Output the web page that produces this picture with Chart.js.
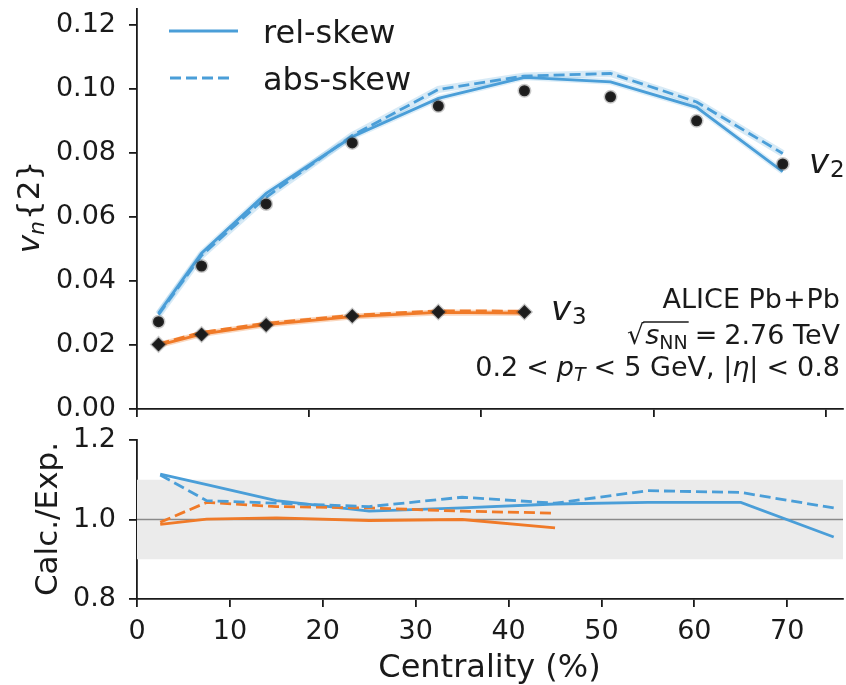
<!DOCTYPE html>
<html><head><meta charset="utf-8">
<script src="https://cdn.jsdelivr.net/npm/chart.js@4"></script>
<style>
html,body{margin:0;padding:0;background:#fff;width:846px;height:685px;overflow:hidden;position:relative}
#c1{position:absolute;left:0;top:-20px}
#c2{position:absolute;left:0;top:410px}
</style></head><body>
<canvas id="c1" width="846" height="465"></canvas>
<canvas id="c2" width="846" height="275"></canvas>
<script>
// ---------------- data ----------------
const centrality   = [2.5, 7.5, 15, 25, 35, 45, 55, 65, 75];
const centralityV3 = [2.5, 7.5, 15, 25, 35, 45];
const expV2 = [0.0273, 0.0447, 0.0641, 0.0832, 0.0947, 0.0995, 0.0976, 0.0901, 0.0766];
const expV3 = [0.0202, 0.0233, 0.0263, 0.0291, 0.0303, 0.0303];
const relV2 = [0.0299, 0.0487, 0.0674, 0.0851, 0.0971, 0.1037, 0.1023, 0.0943, 0.0742];
const absV2 = [0.0295, 0.0480, 0.0662, 0.0855, 0.0999, 0.1041, 0.1049, 0.0960, 0.0799];
const relV3 = [0.0200, 0.0234, 0.0264, 0.0289, 0.0302, 0.0300];
const absV3 = [0.0203, 0.0240, 0.0268, 0.0293, 0.0307, 0.0306];
const ratioRelV2 = [1.114, 1.088, 1.0475, 1.021, 1.029, 1.039, 1.043, 1.043, 0.956];
const ratioAbsV2 = [1.112, 1.0475, 1.041, 1.0325, 1.056, 1.041, 1.0725, 1.068, 1.029];
const ratioRelV3 = [0.9875, 1.001, 1.004, 0.9975, 1.000, 0.979];
const ratioAbsV3 = [0.993, 1.043, 1.0325, 1.029, 1.021, 1.016];
const bandRange = [0.9, 1.1];
const unityLine = [1.0];
const topXTicks = [0, 20, 40, 60, 80];
const topYTicks = [0, 0.02, 0.04, 0.06, 0.08, 0.10, 0.12];
const botXTicks = [0, 10, 20, 30, 40, 50, 60, 70];
const botYTicks = [0.8, 1.0, 1.2];
const topXRange = [0, 82];
const topYRange = [0, 0.125];
const botXRange = [0, 76];
const botYRange = [0.8, 1.2];

// ---------------- style ----------------
const BLUE = '#4a9ed8', ORANGE = '#f07a28', AX = '#1a1a1a', FAM = '"DejaVu Sans"';
const F = (s, st) => (st ? st + ' ' : '') + s + 'px ' + FAM;
const pts = (xs, ys) => xs.map((x, i) => ({x, y: ys[i]}));

function drawRuns(ctx, runs, x, y, align) {
  let w = 0;
  runs.forEach(r => { ctx.font = r.f; w += ctx.measureText(r.t).width + (r.pl || 0) + (r.pr || 0); });
  let cx = align === 'right' ? x - w : align === 'center' ? x - w / 2 : x;
  const pos = [];
  runs.forEach(r => {
    ctx.font = r.f; cx += (r.pl || 0);
    const rw = ctx.measureText(r.t).width;
    ctx.fillText(r.t, cx, y + (r.dy || 0));
    pos.push([cx, cx + rw]);
    cx += rw + (r.pr || 0);
  });
  return pos;
}

function axisCommon(range, ticks, fmt, showLabels, fit, pad) {
  return {
    type: 'linear', min: range[0], max: range[1],
    afterBuildTicks: s => { s.ticks = ticks.map(v => ({value: v})); },
    ticks: {display: showLabels, font: {family: 'DejaVu Sans', size: 27}, color: AX, padding: pad,
            maxRotation: 0, autoSkip: false, callback: v => fmt(v)},
    grid: {drawOnChartArea: false, drawTicks: true, tickLength: 8, color: AX, tickWidth: 1.8, lineWidth: 1.8},
    border: {display: true, color: AX, width: 1.8},
    afterFit: fit
  };
}

// ---------------- top chart ----------------
const topText = {
  id: 'topText',
  afterDraw(chart) {
    const ctx = chart.ctx, o = 20; // page y -> canvas y
    ctx.save();
    ctx.fillStyle = AX; ctx.textBaseline = 'alphabetic';
    // legend
    ctx.lineWidth = 3; ctx.strokeStyle = BLUE;
    ctx.beginPath(); ctx.setLineDash([]); ctx.moveTo(169, 31 + o); ctx.lineTo(238, 31 + o); ctx.stroke();
    ctx.beginPath(); ctx.setLineDash([11, 5]); ctx.moveTo(170, 78 + o); ctx.lineTo(234, 78 + o); ctx.stroke();
    ctx.setLineDash([]);
    drawRuns(ctx, [{t: 'rel-skew', f: F(32)}], 263, 43 + o, 'left');
    drawRuns(ctx, [{t: 'abs-skew', f: F(32)}], 263, 90 + o, 'left');
    // v2 / v3 labels
    drawRuns(ctx, [{t: 'v', f: F(34, 'italic')}, {t: '2', f: F(23), dy: 4, pl: 1}], 809, 173 + o, 'left');
    drawRuns(ctx, [{t: 'v', f: F(34, 'italic')}, {t: '3', f: F(23), dy: 4, pl: 1}], 551, 320 + o, 'left');
    // ALICE block
    drawRuns(ctx, [{t: 'ALICE Pb', f: F(27)}, {t: '+', f: F(27), pl: 1, pr: 1}, {t: 'Pb', f: F(27)}], 840, 308 + o, 'right');
    const p = drawRuns(ctx, [{t: '\u221A', f: F(27)}, {t: 's', f: F(27, 'italic'), pl: 1}, {t: 'NN', f: F(19), dy: 5},
                             {t: '=', f: F(27), pl: 7, pr: 7}, {t: '2.76 TeV', f: F(27)}], 840, 344 + o, 'right');
    ctx.lineWidth = 1.5; ctx.strokeStyle = AX;
    ctx.beginPath(); ctx.moveTo(p[0][1] - 1, 322 + o); ctx.lineTo(p[2][1] + 1, 322 + o); ctx.stroke();
    drawRuns(ctx, [{t: '0.2', f: F(27)}, {t: '<', f: F(27), pl: 8, pr: 8}, {t: 'p', f: F(27, 'italic')},
                   {t: 'T', f: F(19, 'italic'), dy: 5}, {t: '<', f: F(27), pl: 8, pr: 8}, {t: '5 GeV, |', f: F(27)},
                   {t: '\u03B7', f: F(27, 'italic')}, {t: '|', f: F(27)}, {t: '<', f: F(27), pl: 8, pr: 8}, {t: '0.8', f: F(27)}],
             840, 376 + o, 'right');
    // y title
    ctx.translate(39, 207 + o); ctx.rotate(-Math.PI / 2);
    drawRuns(ctx, [{t: 'v', f: F(31, 'italic')}, {t: 'n', f: F(22, 'italic'), dy: 5}, {t: '{2}', f: F(31), pl: 1}], 0, 0, 'center');
    ctx.restore();
  }
};

new Chart(document.getElementById('c1'), {
  type: 'scatter',
  data: {datasets: [
    {data: pts(centrality, expV2), pointStyle: 'circle', pointRadius: 5.5, backgroundColor: '#1c1c1c',
     borderColor: 'rgba(60,60,60,0.28)', borderWidth: 3},
    {data: pts(centralityV3, expV3), pointStyle: 'rectRot', pointRadius: 7, backgroundColor: '#1c1c1c',
     borderColor: 'rgba(60,60,60,0.28)', borderWidth: 2.5},
    {data: pts(centrality, absV2), showLine: true, pointRadius: 0, borderColor: BLUE, borderWidth: 2.8, borderDash: [11, 5]},
    {data: pts(centralityV3, absV3), showLine: true, pointRadius: 0, borderColor: ORANGE, borderWidth: 2.8, borderDash: [11, 5]},
    {data: pts(centrality, relV2), showLine: true, pointRadius: 0, borderColor: BLUE, borderWidth: 2.8},
    {data: pts(centralityV3, relV3), showLine: true, pointRadius: 0, borderColor: ORANGE, borderWidth: 2.8},
    {data: pts(centrality, absV2), showLine: true, pointRadius: 0, borderColor: 'rgba(74,158,216,0.22)', borderWidth: 7},
    {data: pts(centrality, relV2), showLine: true, pointRadius: 0, borderColor: 'rgba(74,158,216,0.18)', borderWidth: 6},
    {data: pts(centralityV3, relV3), showLine: true, pointRadius: 0, borderColor: 'rgba(240,122,40,0.3)', borderWidth: 6}
  ]},
  options: {
    animation: false, responsive: false, devicePixelRatio: 1,
    layout: {autoPadding: false, padding: {top: 29, right: 3, left: 0, bottom: 0}},
    plugins: {legend: {display: false}, tooltip: {enabled: false}},
    scales: {
      x: axisCommon(topXRange, topXTicks, v => '', false, s => { s.height = 36; }, 9),
      y: axisCommon(topYRange, topYTicks, v => v.toFixed(2), true, s => { s.width = 137; }, 13)
    }
  },
  plugins: [topText]
});

// ---------------- bottom chart ----------------
const botText = {
  id: 'botText',
  afterDraw(chart) {
    const ctx = chart.ctx, o = -410;
    ctx.save();
    ctx.fillStyle = AX; ctx.textBaseline = 'alphabetic';
    drawRuns(ctx, [{t: 'Centrality (%)', f: F(32)}], 489.5, 677 + o, 'center');
    ctx.translate(57, 519 + o); ctx.rotate(-Math.PI / 2);
    drawRuns(ctx, [{t: 'Calc./Exp.', f: F(31)}], 0, 0, 'center');
    ctx.restore();
  }
};

new Chart(document.getElementById('c2'), {
  type: 'scatter',
  data: {datasets: [
    {data: pts(centrality, ratioAbsV2), showLine: true, pointRadius: 0, borderColor: BLUE, borderWidth: 2.8, borderDash: [11, 5]},
    {data: pts(centralityV3, ratioAbsV3), showLine: true, pointRadius: 0, borderColor: ORANGE, borderWidth: 2.8, borderDash: [11, 5]},
    {data: pts(centrality, ratioRelV2), showLine: true, pointRadius: 0, borderColor: BLUE, borderWidth: 2.8},
    {data: pts(centralityV3, ratioRelV3), showLine: true, pointRadius: 0, borderColor: ORANGE, borderWidth: 2.8},
    {data: [{x: botXRange[0], y: unityLine[0]}, {x: botXRange[1], y: unityLine[0]}], showLine: true, pointRadius: 0,
     borderColor: '#8a8a8a', borderWidth: 1.3},
    {data: [{x: botXRange[0], y: bandRange[1]}, {x: botXRange[1], y: bandRange[1]}], showLine: true, pointRadius: 0,
     borderWidth: 0, borderColor: 'rgba(0,0,0,0)', backgroundColor: '#ebebeb', fill: {value: bandRange[0]}}
  ]},
  options: {
    animation: false, responsive: false, devicePixelRatio: 1,
    layout: {autoPadding: false, padding: {top: 30, right: 3, left: 0, bottom: 0}},
    plugins: {legend: {display: false}, tooltip: {enabled: false}},
    scales: {
      x: axisCommon(botXRange, botXTicks, v => String(v), true, s => { s.height = 86; }, 9),
      y: axisCommon(botYRange, botYTicks, v => v.toFixed(1), true, s => { s.width = 137; }, 13)
    }
  },
  plugins: [botText]
});
</script>
</body></html>
